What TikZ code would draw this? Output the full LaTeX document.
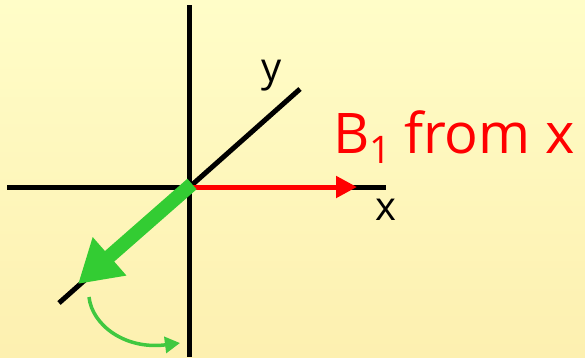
\documentclass[tikz,border=0pt]{standalone}
\usepackage{fontspec}
\setmainfont{Open Sans}
\usetikzlibrary{arrows.meta}
\definecolor{bgtop}{RGB}{255,253,200}
\definecolor{bgbot}{RGB}{253,240,176}
\definecolor{vgreen}{RGB}{51,204,51}
\definecolor{cgreen}{RGB}{64,200,64}
\tikzset{
  axis/.style={line width=5pt, black},
  redvec/.style={line width=5pt, red, -{Triangle[length=21pt,width=21pt]}},
  greenvec/.style={line width=14pt, vgreen, -{Triangle[length=42pt,width=48pt]}},
  turn/.style={line width=3.5pt, cgreen, -{Triangle[length=15pt,width=16pt]}},
  lbl/.style={inner sep=0pt, font=\fontsize{40}{40}\selectfont},
}
\begin{document}
\begin{tikzpicture}[x=1pt,y=-1pt]
\useasboundingbox (0,0) rectangle (585,357);
\shade[top color=bgtop, bottom color=bgbot] (0,0) rectangle (585,357);
% coordinates
\coordinate (O) at (189,187);
\coordinate (vtop) at (189,5);
\coordinate (vbot) at (189,357);
\coordinate (hl) at (7,187);
\coordinate (hr) at (386,187);
\coordinate (dtop) at (300,89);
\coordinate (dbot) at (59,303);
\coordinate (rtip) at (357,187);
\coordinate (gstart) at (192,184);
\coordinate (gtip) at (78,284);
\coordinate (cs) at (89,297);
\coordinate (ce) at (180,343);
% axes
\draw[axis] (vtop) -- (vbot);
\draw[axis] (hl) -- (hr);
\draw[axis] (dbot) -- (dtop);
% vectors
\draw[redvec] (O) -- (rtip);
\draw[greenvec] (gstart) -- (gtip);
\draw[turn] (cs) .. controls (92,325) and (125,350) .. (ce);
% labels
\node[lbl] (ylbl) at (272,76) {y};
\node[lbl] (xlbl) at (386,210) {x};
\node[inner sep=0pt, anchor=base west, text=red, font=\fontsize{56}{56}\selectfont] (blbl) at (333,153)
  {B\raisebox{-10pt}{\fontsize{38}{38}\selectfont 1}\hspace{13pt}from x};
\end{tikzpicture}
\end{document}
